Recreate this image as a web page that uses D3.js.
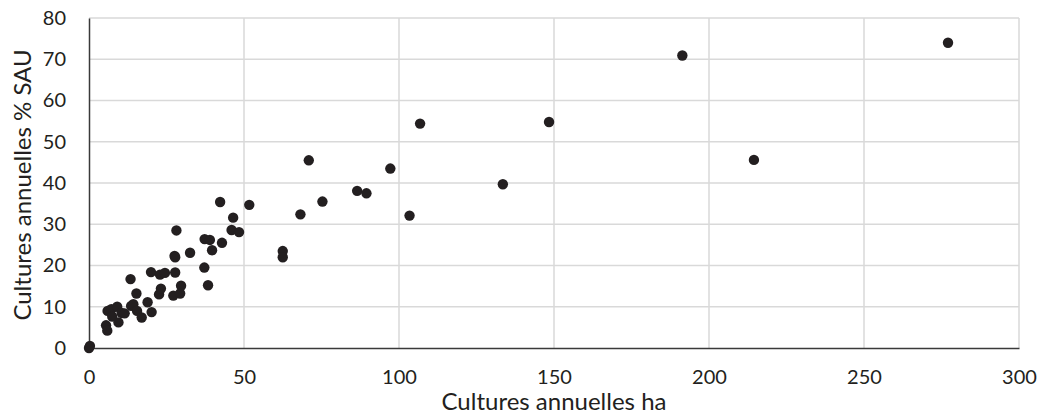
<!DOCTYPE html>
<html><head><meta charset="utf-8">
<script src="https://cdn.jsdelivr.net/npm/d3@7"></script>
<style>body{margin:0;background:#fff}svg text{font-family:Lato,"Noto Sans",sans-serif;fill:#231f20}</style>
</head><body><svg id="c" width="1039" height="416"></svg>
<script>
const xTicks=[0,50,100,150,200,250,300];
const yTicks=[0,10,20,30,40,50,60,70,80];
const xTitle="Cultures annuelles ha";
const yTitle="Cultures annuelles % SAU";
const xs=[0,0.3,5.5,5.9,6.0,7.2,7.5,9.1,9.5,10.5,11.5,13.6,14.3,15.5,15.3,13.4,17.0,18.9,20.2,20.0,22.6,23.2,22.9,24.5,27.2,27.8,27.6,27.8,28.2,29.4,29.7,32.6,37.2,37.3,39.0,38.4,39.7,42.3,42.9,46.0,46.5,48.4,51.7,62.5,62.5,68.2,70.9,75.3,86.5,89.5,97.2,103.4,106.8,133.5,148.4,191.4,214.5,277.1];
const ys=[0,0.5,5.5,4.2,9.0,9.4,7.6,10.0,6.2,8.5,8.4,10.2,10.6,9.0,13.2,16.7,7.4,11.1,8.7,18.4,13.0,14.4,17.8,18.2,12.7,18.3,22.3,22.0,28.5,13.2,15.1,23.1,19.5,26.4,26.2,15.2,23.7,35.4,25.5,28.6,31.6,28.1,34.7,23.5,22.0,32.4,45.5,35.5,38.1,37.5,43.5,32.1,54.4,39.7,54.8,70.9,45.6,74.0];

const svg=d3.select("#c");
const L=89,R=1019,T=18,B=348;
const x=d3.scaleLinear().domain([0,300]).range([L,R]);
const y=d3.scaleLinear().domain([0,80]).range([B,T]);

const g=svg.append("g");
g.selectAll("line.gx").data(xTicks.slice(1)).join("line")
 .attr("x1",d=>x(d)).attr("x2",d=>x(d)).attr("y1",T).attr("y2",B)
 .attr("stroke","#d9d9d9").attr("stroke-width",1.5);
g.selectAll("line.gy").data(yTicks.slice(1)).join("line")
 .attr("x1",L).attr("x2",R).attr("y1",d=>y(d)).attr("y2",d=>y(d))
 .attr("stroke","#d9d9d9").attr("stroke-width",1.5);

const xa=svg.append("g").attr("transform",`translate(0,${B})`)
 .call(d3.axisBottom(x).tickValues(xTicks).tickSize(0).tickPadding(22));
const ya=svg.append("g").attr("transform",`translate(${L},0)`)
 .call(d3.axisLeft(y).tickValues(yTicks).tickSize(0).tickPadding(23));
[xa,ya].forEach(a=>{a.select(".domain").attr("stroke","#3a3a3a").attr("stroke-width",1.5);
 a.selectAll("text").style("font-size","20px").attr("fill","#231f20");});

svg.append("g").selectAll("circle").data(xs.map((v,i)=>[v,ys[i]])).join("circle")
 .attr("cx",d=>x(d[0])).attr("cy",d=>y(d[1])).attr("r",5.2).attr("fill","#231f20");

svg.append("text").attr("x",554).attr("y",410).attr("text-anchor","middle")
 .style("font-size","24px").text(xTitle);
svg.append("text").attr("transform","translate(31,185) rotate(-90)").attr("text-anchor","middle")
 .style("font-size","24px").text(yTitle);
</script></body></html>
